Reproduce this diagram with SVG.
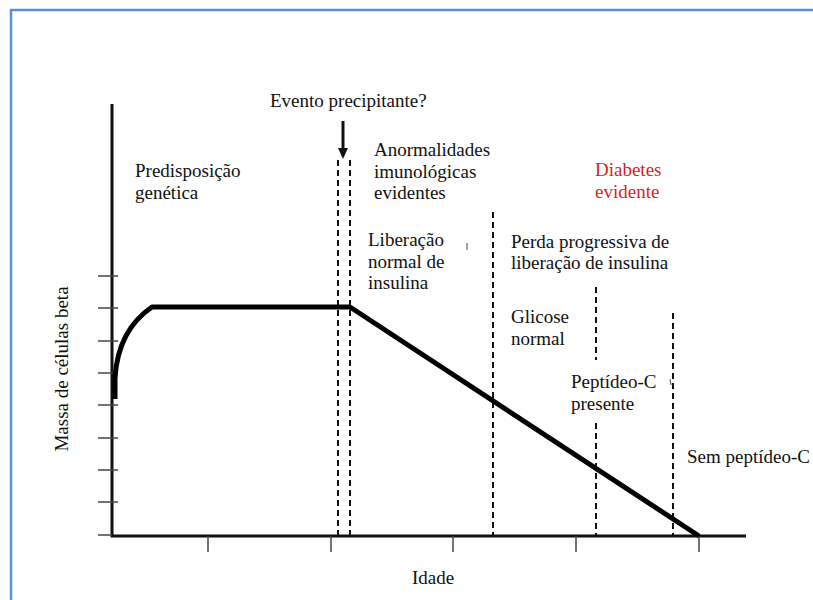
<svg xmlns="http://www.w3.org/2000/svg" width="813" height="600" viewBox="0 0 813 600">
<style>
.t{font-family:"Liberation Serif","Times New Roman",serif;font-size:19px;fill:#111}
.red{fill:#d81e1e}
.dash{stroke:#111;stroke-width:2;stroke-dasharray:6,4;fill:none}
.tick{stroke:#444;stroke-width:1.5}
</style>
<defs>
<marker id="ah" markerWidth="12" markerHeight="10" refX="1" refY="5" orient="auto" markerUnits="userSpaceOnUse">
<path d="M0,0 L11,5 L0,10 Z" fill="#111"/>
</marker>
</defs>
<rect width="813" height="600" fill="#fff"/>
<g id="frame">
<line x1="10" y1="10" x2="813" y2="10" stroke="#5b8fd0" stroke-width="2.5"/>
<line x1="11" y1="9" x2="11" y2="600" stroke="#5b8fd0" stroke-width="2.5"/>
</g>
<g id="axes">
<line x1="112" y1="104" x2="112" y2="537" stroke="#111" stroke-width="3"/>
<line x1="111" y1="536" x2="746" y2="536" stroke="#111" stroke-width="3"/>
<g class="tick">
<line x1="98" y1="276" x2="118" y2="276"/>
<line x1="98" y1="308" x2="118" y2="308"/>
<line x1="98" y1="341" x2="118" y2="341"/>
<line x1="98" y1="373" x2="118" y2="373"/>
<line x1="98" y1="405" x2="118" y2="405"/>
<line x1="98" y1="438" x2="118" y2="438"/>
<line x1="98" y1="470" x2="118" y2="470"/>
<line x1="98" y1="502" x2="118" y2="502"/>
<line x1="98" y1="535" x2="112" y2="535"/>
<line x1="208" y1="536" x2="208" y2="552"/>
<line x1="331" y1="536" x2="331" y2="552"/>
<line x1="453" y1="536" x2="453" y2="552"/>
<line x1="576" y1="536" x2="576" y2="552"/>
<line x1="699" y1="536" x2="699" y2="552"/>
</g>
</g>
<g id="connectors">
<line class="dash" x1="338" y1="160" x2="338" y2="536"/>
<line class="dash" x1="350" y1="160" x2="350" y2="536"/>
<line class="dash" x1="493" y1="212" x2="493" y2="536"/>
<line class="dash" x1="596" y1="287" x2="596" y2="360"/>
<line class="dash" x1="596" y1="423" x2="596" y2="536"/>
<line class="dash" x1="673" y1="313" x2="673" y2="536"/>
<line x1="343" y1="121" x2="343" y2="149" stroke="#111" stroke-width="3" marker-end="url(#ah)"/>
<line x1="467" y1="243" x2="467" y2="250" stroke="#666" stroke-width="1.2"/>
<line x1="670" y1="379" x2="671" y2="385" stroke="#666" stroke-width="1.2"/>
</g>
<g id="curve">
<path d="M115,399 L115,378 Q118,330 152,307 L350,307 L699,536" fill="none" stroke="#000" stroke-width="5" stroke-linejoin="round"/>
</g>
<g id="labels">
<text class="t" x="270" y="107">Evento precipitante?</text>
<text class="t" x="135" y="177">Predisposição</text>
<text class="t" x="135" y="199">genética</text>
<text class="t" x="374" y="156">Anormalidades</text>
<text class="t" x="374" y="178">imunológicas</text>
<text class="t" x="374" y="199">evidentes</text>
<text class="t" x="368" y="246">Liberação</text>
<text class="t" x="368" y="268">normal de</text>
<text class="t" x="368" y="289">insulina</text>
<text class="t" x="511" y="248">Perda progressiva de</text>
<text class="t" x="511" y="269">liberação de insulina</text>
<text class="t" x="511" y="323">Glicose</text>
<text class="t" x="511" y="345">normal</text>
<text class="t" x="571" y="388">Peptídeo-C</text>
<text class="t" x="571" y="410">presente</text>
<text class="t" x="687" y="463">Sem peptídeo-C</text>
<text class="t red" x="595" y="176">Diabetes</text>
<text class="t red" x="595" y="198">evidente</text>
<text class="t" x="433" y="584" text-anchor="middle">Idade</text>
<text class="t" transform="translate(68,369) rotate(-90)" text-anchor="middle">Massa de células beta</text>
</g>
</svg>
